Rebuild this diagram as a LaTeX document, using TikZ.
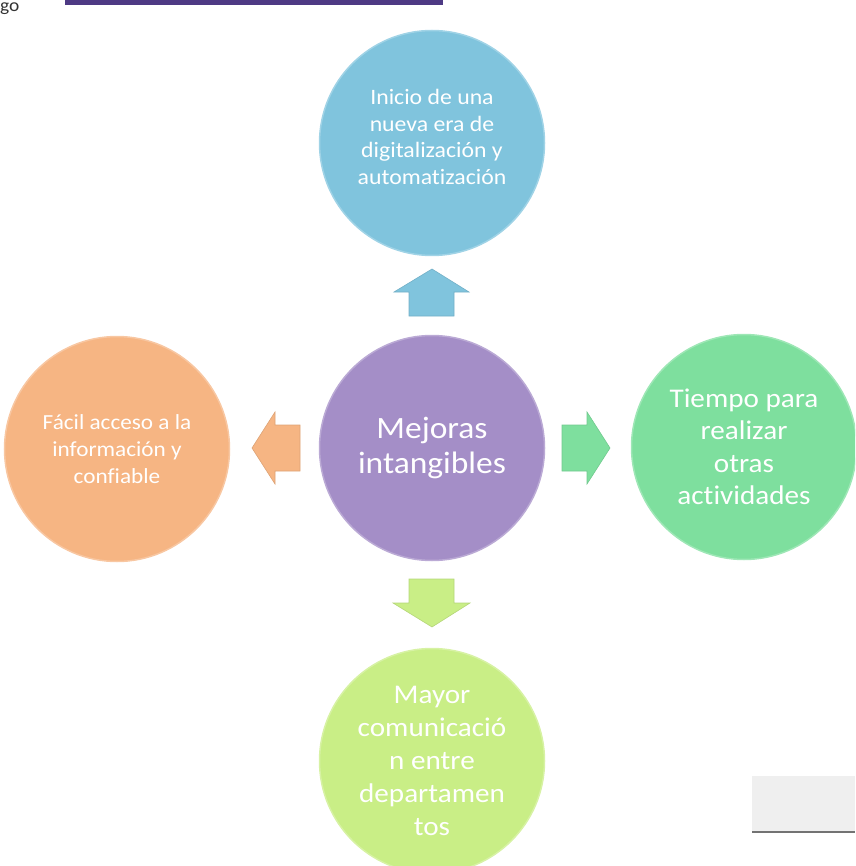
\documentclass[tikz,border=0pt]{standalone}
\usepackage{fontspec}
\setmainfont{Carlito}[FakeStretch=1.08,Ligatures=NoCommon]
\usetikzlibrary{positioning}
\definecolor{azul}{HTML}{80C4DD}
\definecolor{lila}{HTML}{A48EC7}
\definecolor{naranja}{HTML}{F6B583}
\definecolor{verde}{HTML}{7EDF9E}
\definecolor{lima}{HTML}{C9EE86}
\definecolor{barra}{HTML}{4E3A84}
\definecolor{gris}{HTML}{EFEFEF}
\tikzstyle{idea}=[circle,inner sep=0pt,minimum size=225pt,text=white,
align=center,line width=1.5pt]
\tikzstyle{texto}=[text=white,align=center,inner sep=0pt]
\tikzstyle{flecha}=[line width=0.6pt]

\begin{document}
\begin{tikzpicture}[x=1pt,y=-1pt]
			\useasboundingbox (0,0) rectangle (855,866);
			\clip (0,0) rectangle (855,866);

			% cabecera
			\fill[barra] (65,0) rectangle (443,5);
			\node[anchor=base west,inner sep=0pt,text=black!80,
				font=\fontsize{18}{22}\selectfont] (go) at (0,12) {go};

			% circulos
			\node[idea,fill=azul,draw=azul!75!white] (inicio) at (432,143) {};
			\node[texto,font=\fontsize{22}{26.5}\selectfont,yshift=6pt]
				(inicioT) at (inicio.center)
				{Inicio de una\\nueva era de\\digitalización y\\automatización};
			\node[idea,fill=lila,draw=lila!75!white,
				font=\fontsize{31}{35}\selectfont] (mejoras) at (432,448)
				{Mejoras\\intangibles};
			\node[idea,fill=naranja,draw=naranja!75!white,
				font=\fontsize{21.5}{27}\selectfont] (acceso) at (117,449)
				{Fácil acceso a la\\información y\\confiable};
			\node[idea,fill=verde,draw=verde!75!white,
				font=\fontsize{27}{32.5}\selectfont] (tiempo) at (744,447)
				{Tiempo para\\realizar\\otras\\actividades};
			\node[idea,fill=lima,draw=lima!75!white,
				font=\fontsize{27}{33}\selectfont] (mayor) at (432,761)
				{Mayor\\comunicació\\n entre\\departamen\\tos};

			% flechas
			\filldraw[flecha,fill=azul,draw=azul!90!black]
				(432,269) -- (469,292) -- (454,292) -- (454,316) -- (409,316)
				-- (409,292) -- (394,292) -- cycle;
			\filldraw[flecha,fill=naranja,draw=naranja!90!black]
				(252,448) -- (275,412) -- (275,425) -- (300,425) -- (300,471)
				-- (275,471) -- (275,484) -- cycle;
			\filldraw[flecha,fill=verde,draw=verde!90!black]
				(610,448) -- (587,412) -- (587,425) -- (562,425) -- (562,471)
				-- (587,471) -- (587,484) -- cycle;
			\filldraw[flecha,fill=lima,draw=lima!90!black]
				(432,627) -- (470,603) -- (454,603) -- (454,579) -- (409,579)
				-- (409,603) -- (393,603) -- cycle;

			% recuadro
			\fill[gris] (752,776) rectangle (855,832);
			\draw[line width=2pt,black!55] (752,832) -- (855,832);
		\end{tikzpicture}
\end{document}
